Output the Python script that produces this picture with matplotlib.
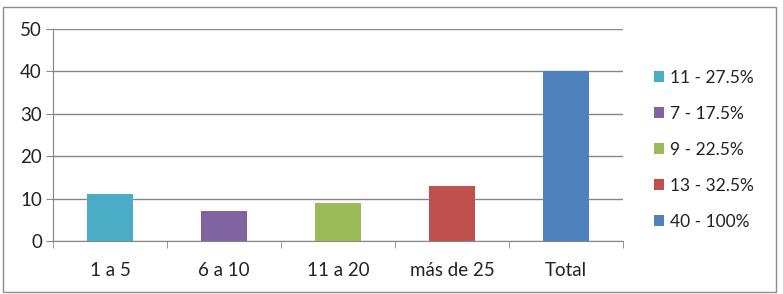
import matplotlib
matplotlib.use("Agg")
from matplotlib import pyplot as plt
from matplotlib.patches import Rectangle

categories = ["1 a 5", "6 a 10", "11 a 20", "más de 25", "Total"]
values = [11, 7, 9, 13, 40]
legend_labels = ["11 - 27.5%", "7 - 17.5%", "9 - 22.5%", "13 - 32.5%", "40 - 100%"]
colors = ["#4BACC6", "#8064A2", "#9BBB59", "#C0504D", "#4F81BD"]
y_ticks = [0, 10, 20, 30, 40, 50]

plt.rcParams["font.family"] = ["Lato", "DejaVu Sans"]
grid_color = "#868686"
text_color = "#222222"
fs = 13.5

fig = plt.figure(figsize=(7.83, 2.94), dpi=100)
fig.patches.append(Rectangle((3 / 783, 2 / 294), 773 / 783, 285 / 294,
                             transform=fig.transFigure, fill=False,
                             edgecolor="#8c8c8c", linewidth=1.0))

ax = fig.add_axes([53 / 783, 1 - 241 / 294, 570 / 783, 212 / 294])
x = list(range(len(categories)))
handles = []
for i, (v, c, lab) in enumerate(zip(values, colors, legend_labels)):
    handles.append(ax.bar(i, v, width=0.4, color=c, label=lab, zorder=3))

ax.set_xlim(-0.5, len(categories) - 0.5)
ax.set_ylim(0, 50)
ax.set_yticks(y_ticks)
ax.set_xticks(x)
ax.set_xticklabels(categories)
ax.set_xticks([i + 0.5 for i in range(-1, len(categories))], minor=True)
ax.tick_params(axis="x", which="major", length=0, pad=15, labelsize=fs, colors=text_color)
ax.tick_params(axis="x", which="minor", length=5, color=grid_color, direction="out")
ax.tick_params(axis="y", length=5, color=grid_color, labelsize=fs, colors=text_color, pad=3)
ax.yaxis.grid(True, color=grid_color, linewidth=1.0, zorder=0)
ax.set_axisbelow(True)
for side in ["top", "right"]:
    ax.spines[side].set_visible(False)
for side in ["left", "bottom"]:
    ax.spines[side].set_color(grid_color)

ax.legend(handles=handles, loc="upper left", bbox_to_anchor=(654 / 783, 1 - 70 / 294),
          bbox_transform=fig.transFigure, frameon=False, fontsize=12.5,
          borderpad=0, borderaxespad=0,
          handlelength=0.6, handleheight=0.6, handletextpad=0.35, labelspacing=1.15,
          labelcolor=text_color)

plt.savefig("out.png", dpi=100)
